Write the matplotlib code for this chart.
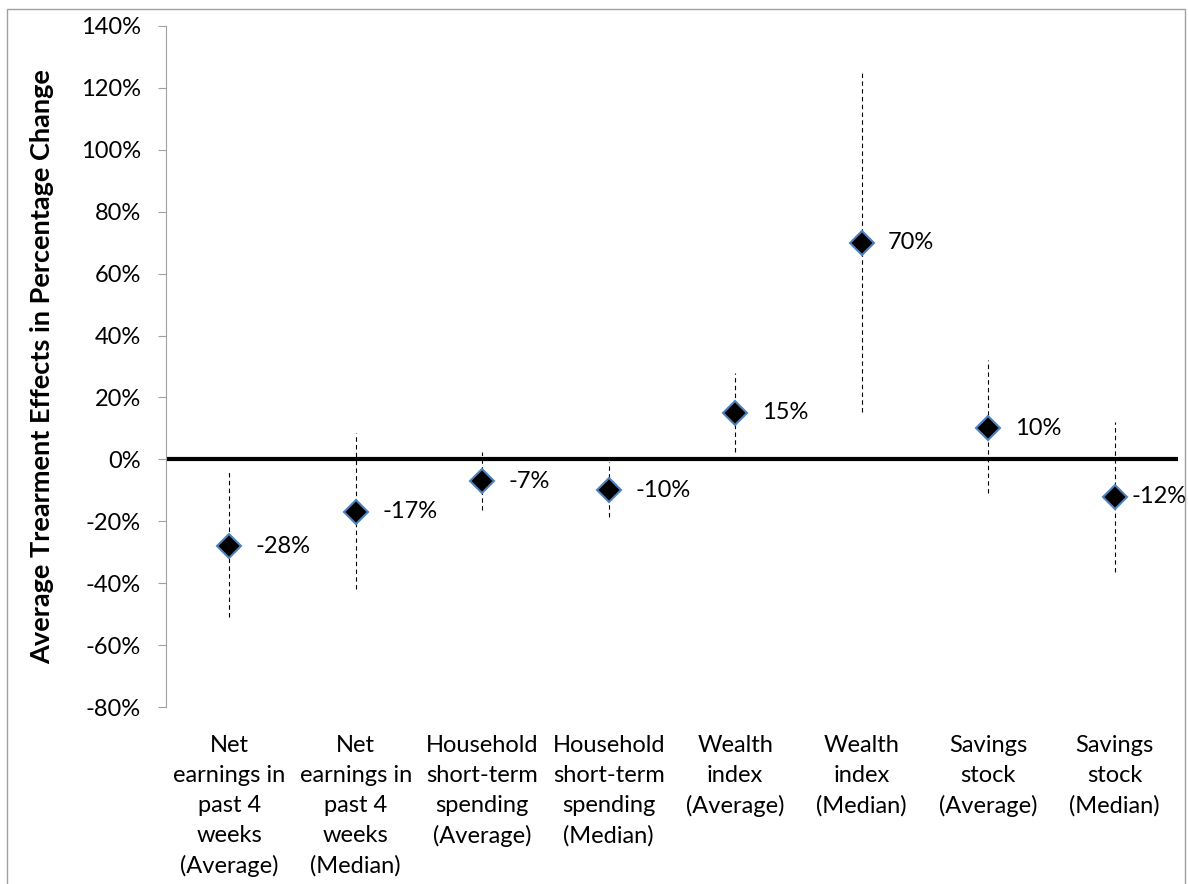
import matplotlib.pyplot as plt
from matplotlib.patches import Rectangle
import numpy as np

plt.rcParams['font.family'] = ['Lato', 'DejaVu Sans']

# data (percent)
categories = ["Net\nearnings in\npast 4\nweeks\n(Average)",
              "Net\nearnings in\npast 4\nweeks\n(Median)",
              "Household\nshort-term\nspending\n(Average)",
              "Household\nshort-term\nspending\n(Median)",
              "Wealth\nindex\n(Average)",
              "Wealth\nindex\n(Median)",
              "Savings\nstock\n(Average)",
              "Savings\nstock\n(Median)"]
effects = [-28, -17, -7, -10, 15, 70, 10, -12]
ci_upper = [-4, 8.5, 2.4, -1, 28, 125, 32, 12]
ci_lower = [-51, -42, -16.3, -18.6, 2.4, 15.3, -11, -36.3]
yticks = list(range(-80, 141, 20))

W, H = 1189, 884
fig = plt.figure(figsize=(W / 100, H / 100), dpi=100)
ax = fig.add_axes([166 / W, 1 - 707 / H, (1178 - 166) / W, (707 - 26) / H])

x = np.arange(len(categories))
ax.vlines(x, ci_lower, ci_upper, colors="black", linewidth=0.8,
          linestyles=(0, (4, 3)), zorder=2)
ax.axhline(0, color="black", linewidth=3, zorder=1)
ax.plot(x, effects, linestyle="none", marker="D", markersize=12.5,
        markerfacecolor="black", markeredgecolor="#4F81BD",
        markeredgewidth=1.5, zorder=3)
for i, (xi, v) in enumerate(zip(x, effects)):
    # last label is squeezed against the right edge, as in the original
    off = 12 if i == len(x) - 1 else 19
    ax.annotate(f"{v}%", (xi, v), xytext=(off, 0), textcoords="offset points",
                va="center", ha="left", fontsize=17)

ax.set_xlim(-0.5, len(categories) - 0.5)
ax.set_ylim(-80, 140)
ax.set_yticks(yticks)
ax.set_yticklabels([f"{t}%" for t in yticks], fontsize=17)
ax.set_xticks(x)
ax.set_xticklabels(categories, fontsize=17, linespacing=1.53)
ax.tick_params(axis="x", length=0, pad=20)
ax.tick_params(axis="y", length=6, color="#A0A0A0", pad=12)
for s in ["top", "right", "bottom"]:
    ax.spines[s].set_visible(False)
ax.spines["left"].set_color("#A0A0A0")
ax.set_ylabel("Average Trearment Effects in Percentage Change",
              fontsize=19.5, fontweight="bold", labelpad=19)

fig.patches.append(Rectangle((7 / W, -0.02), (1185 - 7) / W, 1.02 - 9 / H,
                             transform=fig.transFigure, fill=False,
                             edgecolor="#A0A0A0", linewidth=1))

fig.savefig("out.png", dpi=100)
